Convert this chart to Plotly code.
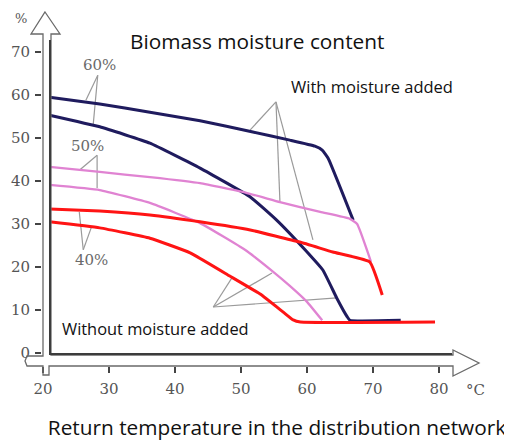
import plotly.graph_objects as go

# ---------------- data ----------------
x_ticks = [20, 30, 40, 50, 60, 70, 80]
y_ticks = [0, 10, 20, 30, 40, 50, 60, 70]

# 60 % biomass moisture (navy)
t60_with = [21.0, 28.6, 36.2, 43.8, 51.8, 57.4, 61.2, 62.3, 63.2, 67.0]
v60_with = [59.5, 57.9, 56.0, 54.0, 51.4, 49.5, 48.1, 47.2, 45.3, 30.9]
t60_without = [21.0, 28.6, 36.2, 43.8, 51.4, 55.4, 59.7, 62.4, 64.5, 66.1, 66.5, 74.2]
v60_without = [55.3, 52.6, 48.8, 43.0, 36.3, 30.9, 24.0, 19.3, 12.8, 8.4, 7.6, 7.6]

# 50 % biomass moisture (pink)
t50_with = [21.0, 28.6, 36.2, 43.8, 50.9, 55.9, 62.0, 66.5, 67.6, 69.7]
v50_with = [43.3, 42.1, 40.9, 39.5, 37.2, 35.1, 32.8, 31.2, 30.0, 21.2]
t50_without = [21.0, 28.6, 36.2, 43.8, 50.6, 54.7, 57.4, 60.0, 62.3]
v50_without = [39.1, 37.9, 34.9, 30.2, 24.0, 19.1, 15.6, 11.9, 7.6]

# 40 % biomass moisture (red)
t40_with = [21.0, 28.6, 36.2, 43.8, 51.4, 58.9, 63.9, 69.5, 71.4]
v40_with = [33.5, 33.0, 32.1, 30.5, 28.6, 25.8, 23.5, 21.2, 13.5]
t40_without = [21.0, 28.6, 36.2, 42.3, 48.3, 52.9, 56.4, 57.9, 59.0, 79.4]
v40_without = [30.5, 29.1, 26.7, 23.3, 17.9, 13.7, 9.5, 7.7, 7.2, 7.2]

# leader lines: (origin, [targets])
leaders = [
    ((28.3, 64.6), [(26.5, 58.8), (27.6, 53.0)]),
    ((28.2, 46.0), [(25.6, 42.6), (28.2, 38.4)]),
    ((26.1, 24.0), [(25.5, 32.8), (27.3, 29.1)]),
    ((55.3, 58.4), [(51.4, 51.9), (55.9, 35.1), (60.9, 26.3)]),
    ((45.8, 10.7), [(48.6, 17.4), (54.7, 18.6), (64.5, 12.8)]),
]

NAVY = "#1f1b5e"
PINK = "#e083d2"
RED = "#ff1414"
GREY = "#9a9a9a"
SERIF = "DejaVu Serif"
SANS = "Open Sans"

# ---------------- figure ----------------
# the page body has an 8px margin, so the figure is 8px smaller than the window
OFF = 8
W, H = 504, 433
ML, MR, MT, MB = 34, 0, 0, 75
PW, PH = W - ML - MR, H - MT - MB

fig = go.Figure()

for (ox, oy), targets in leaders:
    xs, ys = [], []
    for tx, ty in targets:
        xs += [ox, tx, None]
        ys += [oy, ty, None]
    fig.add_trace(go.Scatter(x=xs, y=ys, mode="lines",
                             line=dict(color=GREY, width=1.2),
                             hoverinfo="skip", showlegend=False))

series = [
    (t60_with, v60_with, NAVY, 3.0),
    (t60_without, v60_without, NAVY, 3.0),
    (t50_with, v50_with, PINK, 2.3),
    (t50_without, v50_without, PINK, 2.3),
    (t40_without, v40_without, RED, 3.0),
    (t40_with, v40_with, RED, 3.0),
]
for xs, ys, c, w in series:
    fig.add_trace(go.Scatter(x=xs, y=ys, mode="lines",
                             line=dict(color=c, width=w, shape="spline", smoothing=0.35),
                             showlegend=False))


def pp(px, py):
    """window pixel -> paper coordinates"""
    fx, fy = px - OFF, py - OFF
    return (fx - ML) / PW, (H - MB - fy) / PH


def path(points, close=True):
    s = ""
    for i, (px, py) in enumerate(points):
        x, y = pp(px, py)
        s += ("M" if i == 0 else "L") + f"{x:.5f},{y:.5f} "
    return s + ("Z" if close else "")


outline = [
    (45, 12), (60, 34), (51, 34), (51, 355), (453, 355), (453, 350),
    (479, 363), (453, 376), (453, 366), (49, 366), (49, 375), (43, 375),
    (43, 366), (27, 366), (25, 361), (27, 356), (43, 356), (43, 34), (31, 34),
]
shapes = [
    dict(type="path", xref="paper", yref="paper", path=path(outline),
         line=dict(color="#6a6a6a", width=1.3), fillcolor="rgba(0,0,0,0)", layer="above"),
    dict(type="path", xref="paper", yref="paper", path=path([(50, 40), (50, 354), (452, 354)], close=False),
         line=dict(color="#3c3c3c", width=2), layer="above"),
]


def ann(x, y, text, font, xref="x", yref="y", **kw):
    return dict(x=x, y=y, xref=xref, yref=yref, text=text, showarrow=False,
                xanchor="center", yanchor="middle", font=font, **kw)


annotations = [
    ann(28.6, 67.0, "60%", dict(family=SERIF, size=15, color="#6a6a6a")),
    ann(26.8, 48.1, "50%", dict(family=SERIF, size=15, color="#6a6a6a")),
    ann(27.3, 21.6, "40%", dict(family=SERIF, size=15, color="#6a6a6a")),
    ann(69.85, 61.9, "With moisture added", dict(family=SANS, size=16.5, color="#111")),
    ann(37.1, 5.8, "Without moisture added", dict(family=SANS, size=16.4, color="#111"), bgcolor="white"),
    ann(*pp(257, 41), "Biomass moisture content", dict(family=SANS, size=20.8, color="#111"),
        xref="paper", yref="paper"),
    ann(*pp(21, 18), "%", dict(family=SERIF, size=13, color="#555"), xref="paper", yref="paper"),
    ann(*pp(475, 390), "°C", dict(family=SERIF, size=15, color="#555"), xref="paper", yref="paper"),
]

# axis ranges: window x 42..512 and y 8..366
fig.update_layout(
    width=W, height=H,
    margin=dict(l=ML, r=MR, t=MT, b=MB, autoexpand=False),
    paper_bgcolor="white", plot_bgcolor="white",
    shapes=shapes, annotations=annotations,
    showlegend=False,
    xaxis=dict(range=[19.85, 91.06], tickvals=x_ticks, ticktext=[str(v) for v in x_ticks],
               ticks="outside", ticklen=6, tickwidth=2, tickcolor="#444",
               showline=False, showgrid=False, zeroline=False, automargin=False,
               tickfont=dict(family=SERIF, size=15, color="#555"), ticklabelstandoff=3,
               title=dict(text="Return temperature in the distribution network",
                          font=dict(family=SANS, size=20.8, color="#111"), standoff=26)),
    yaxis=dict(range=[-3.02, 80.23], tickvals=y_ticks, ticktext=[str(v) for v in y_ticks],
               ticks="outside", ticklen=6, tickwidth=2, tickcolor="#444",
               showline=False, showgrid=False, zeroline=False, automargin=False,
               tickfont=dict(family=SERIF, size=15, color="#555"), ticklabelstandoff=2),
)

fig.write_html("out.html")
